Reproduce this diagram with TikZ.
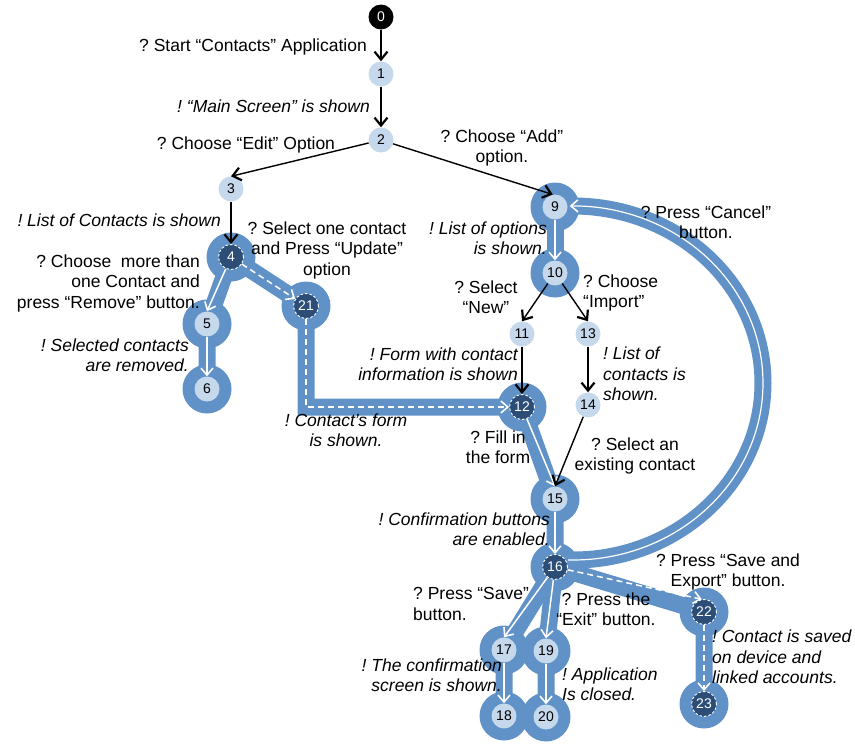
\documentclass[tikz,border=0pt]{standalone}
\usepackage{fontspec}
\setmainfont{Liberation Sans}
\usetikzlibrary{arrows.meta,calc}
\frenchspacing
\definecolor{laneblue}{RGB}{96,146,200}
\definecolor{stateblue}{RGB}{198,216,236}
\definecolor{statenavy}{RGB}{44,77,118}
\pgfdeclarelayer{lanes}
\pgfdeclarelayer{flows}
\pgfsetlayers{lanes,flows,main}
\tikzset{
  st/.style={circle, minimum size=25pt, inner sep=0pt, font=\fontsize{14}{14}\selectfont},
  lt/.style={st, fill=stateblue, text=black},
  dk/.style={st, fill=statenavy, text=white, draw=white, line width=0.9pt, dash pattern=on 2.5pt off 2pt},
  bk/.style={st, fill=black, text=white},
  lbl/.style={inner sep=0pt, font=\fontsize{17.5}{20.5}\selectfont},
  note/.style={lbl, font=\fontsize{17.5}{20.5}\selectfont\itshape},
  halo/.style={fill=laneblue},
  lane/.style={draw=laneblue, line width=17pt},
  flow/.style={draw=white, line width=1.5pt, -{Straight Barb[length=7pt,width=12pt,line width=1.6pt]}},
  flowd/.style={flow, dash pattern=on 6pt off 4pt},
  edge/.style={draw=black, line width=1.4pt, -{Straight Barb[length=8pt,width=13pt,line width=2.2pt]}},
}
\begin{document}
\begin{tikzpicture}[x=1pt,y=-1pt]
\useasboundingbox (0,0) rectangle (855,744);

% states
\node[bk] (n0) at (381,17) {0};
\node[lt] (n1) at (381,74) {1};
\node[lt] (n2) at (381,140) {2};
\node[lt] (n3) at (231,189) {3};
\node[dk] (n4) at (231,257) {4};
\node[lt] (n5) at (207,324) {5};
\node[lt] (n6) at (207,389) {6};
\node[dk] (n21) at (306,306) {21};
\node[lt] (n9) at (555,207) {9};
\node[lt] (n10) at (555,273) {10};
\node[lt] (n11) at (522,334) {11};
\node[lt] (n13) at (588,334) {13};
\node[dk] (n12) at (522,407) {12};
\node[lt] (n14) at (588,405) {14};
\node[lt] (n15) at (555,499) {15};
\node[dk] (n16) at (555,567) {16};
\node[lt] (n17) at (504,650) {17};
\node[lt] (n19) at (546,651) {19};
\node[lt] (n18) at (504,716) {18};
\node[lt] (n20) at (546,717) {20};
\node[dk] (n22) at (704,612) {22};
\node[dk] (n23) at (704,704) {23};

% highlighted scenario lanes
\begin{pgfonlayer}{lanes}
  \foreach \s in {n4,n5,n6,n21,n9,n10,n12,n15,n16,n17,n19,n18,n20,n22,n23}
    \fill[halo] (\s) circle[radius=24.5pt];
  \draw[lane] (n4.center) -- (n5.center) -- (n6.center);
  \draw[lane] (n4.center) -- (n21.center) |- (n12.center);
  \draw[lane] (n9.center) -- (n10.center);
  \draw[lane] (n12.center) -- (n15.center) -- (n16.center);
  \draw[lane] (n16.center) -- (n17.center) -- (n18.center);
  \draw[lane] (n16.center) -- (n19.center) -- (n20.center);
  \draw[lane] (n16.center) -- (n22.center) -- (n23.center);
  \draw[lane] ($(573,383)+(96:190 and 177)$) arc[start angle=96, end angle=-95, x radius=190, y radius=177];
\end{pgfonlayer}

% transitions inside the lanes
\begin{pgfonlayer}{flows}
  \draw[flow] (n4) -- (n5.north);
  \draw[flow] (n5) -- (n6);
  \draw[flowd] (n4) -- (n21);
  \draw[flowd] (n21) |- (n12);
  \draw[flow] (n9) -- (n10);
  \draw[flow] (n12) -- (n15.north);
  \draw[flow] (n15) -- (n16);
  \draw[flow] (n16) -- (n17.north);
  \draw[flow] (n16) -- (n19.north);
  \draw[flow] (n17) -- (n18);
  \draw[flow] (n19) -- (n20);
  \draw[flowd] (n16) -- (n22.100);
  \draw[flowd] (n22) -- (n23);
  \draw[flow, line width=1.2pt] ($(573,383)+(91.5:190 and 177)$) arc[start angle=91.5, end angle=-91, x radius=190, y radius=177];
\end{pgfonlayer}

% plain transitions
\draw[edge] (n0) -- (n1);
\draw[edge] (n1) -- (n2);
\draw[edge] (n2) -- (n3.north);
\draw[edge] (n2) -- (n9.100);
\draw[edge] (n3) -- (n4);
\draw[edge] (n10) -- (n11.north);
\draw[edge] (n10) -- (n13.north);
\draw[edge] (n11) -- (n12);
\draw[edge] (n13) -- (n14);
\draw[edge] (n14) -- (n15.north);

% labels
\node[lbl, anchor=east] (t1) at (367,47) {? Start “Contacts” Application};
\node[note, anchor=east] (t2) at (370,106) {! “Main Screen” is shown};
\node[lbl] (t3) at (246,145) {? Choose “Edit” Option};
\node[lbl, align=center] (t4) at (502,148) {? Choose “Add”\\option.};
\node[note, anchor=east] (t5) at (221,220) {! List of Contacts is shown};
\node[lbl, align=center] (t6) at (327,250) {? Select one contact\\and Press “Update”\\option};
\node[lbl, align=right, anchor=east] (t7) at (200,283) {? Choose~ more than\\one Contact and\\press “Remove” button.};
\node[note, align=right, anchor=east] (t8) at (189,355) {! Selected contacts\\are removed.};
\node[note, align=right, anchor=east] (t9) at (547,238) {! List of options\\is shown.};
\node[lbl, align=center] (t10) at (706,222) {? Press “Cancel”\\button.};
\node[lbl, align=center] (t11) at (486,297) {? Select\\“New”};
\node[lbl, align=left, anchor=west] (t12) at (583,293) {? Choose\\“Import”};
\node[note, align=right, anchor=east] (t13) at (518,364) {! Form with contact\\information is shown};
\node[note, align=left, anchor=west] (t14) at (603,374) {! List of\\contacts is\\shown.};
\node[note, align=center] (t15) at (346,430) {! Contact’s form\\is shown.};
\node[lbl, align=center] (t16) at (498,447) {? Fill in\\the form};
\node[lbl, align=center] (t17) at (635,456) {? Select an\\existing contact};
\node[note, align=right, anchor=east] (t18) at (550,529) {! Confirmation buttons\\are enabled.};
\node[lbl, align=center] (t19) at (728,572) {? Press “Save and\\Export” button.};
\node[lbl, align=left, anchor=west] (t20) at (413,604) {? Press “Save”\\button.};
\node[lbl, align=center] (t21) at (606,609) {? Press the\\“Exit” button.};
\node[note, align=left, anchor=west] (t22) at (712,657) {! Contact is saved\\on device and\\linked accounts.};
\node[note, align=right, anchor=east] (t23) at (502,675) {! The confirmation\\screen is shown.};
\node[note, align=left, anchor=west] (t24) at (562,684) {! Application\\Is closed.};
\end{tikzpicture}
\end{document}
